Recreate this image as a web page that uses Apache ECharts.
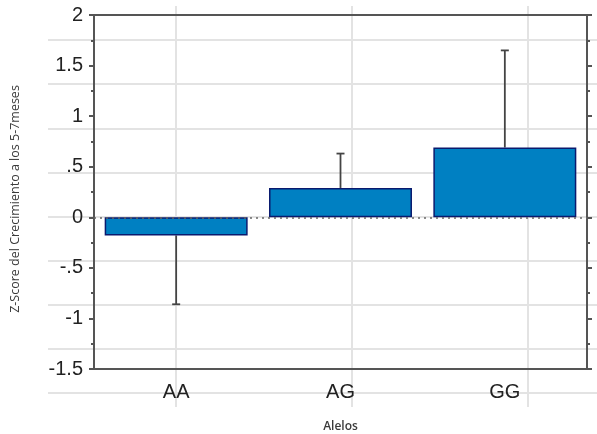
<!DOCTYPE html>
<html><head><meta charset="utf-8">
<script src="https://cdn.jsdelivr.net/npm/echarts@6/dist/echarts.min.js"></script>
<style>html,body{margin:0;padding:0;background:#fff}#c{width:597px;height:434px}</style>
</head><body><div id="c"></div>
<script>
const categories = ['AA', 'AG', 'GG'];
const means = [-0.18, 0.29, 0.69];
const errorEnds = [-0.86, 0.63, 1.65];
const yTicks = { min: -1.5, max: 2, interval: 0.5 };
const xName = 'Alelos';
const yName = 'Z-Score del Crecimiento a los 5-7meses';

const chart = echarts.init(document.getElementById('c'), null, { renderer: 'canvas' });
const axisCol = '#555';
const bgLine = { show: true, lineStyle: { color: '#e3e3e3', width: 2 } };
const fmt = v => { let s = String(Math.round(v * 100) / 100); return s.replace(/^0\./, '.').replace(/^-0\./, '-.'); };

chart.setOption({
  animation: false,
  grid: [
    { left: 94, right: 10, top: 15, bottom: 65, outerBoundsMode: 'none', containLabel: false },
    { left: 48, right: 0, top: 40, height: 353, outerBoundsMode: 'none' },
    { left: 176, width: 352, top: 6, bottom: 27, outerBoundsMode: 'none' }
  ],
  xAxis: [
    { type: 'category', data: categories, gridIndex: 0, boundaryGap: true,
      axisLine: { onZero: false, lineStyle: { color: axisCol, width: 2 } },
      axisTick: { alignWithLabel: true, length: 4, lineStyle: { color: axisCol, width: 2 } },
      axisLabel: { fontSize: 20, color: '#222', margin: 13, fontFamily: 'Liberation Sans' },
      name: xName, nameLocation: 'middle', nameGap: 52,
      nameTextStyle: { fontSize: 12, color: '#3a3a3a', fontFamily: 'Open Sans', fontWeight: 600 } },
    { type: 'category', data: categories, gridIndex: 0, position: 'top', boundaryGap: true,
      axisLine: { onZero: false, lineStyle: { color: axisCol, width: 2 } },
      axisTick: { alignWithLabel: true, inside: true, length: 3, lineStyle: { color: axisCol, width: 2 } },
      axisLabel: { show: false } },
    { type: 'value', gridIndex: 1, min: 0, max: 1, show: false },
    { type: 'value', gridIndex: 2, min: 0, max: 2, interval: 1,
      axisLine: { show: false }, axisTick: { show: false }, axisLabel: { show: false }, splitLine: bgLine }
  ],
  yAxis: [
    { type: 'value', gridIndex: 0, min: yTicks.min, max: yTicks.max, interval: yTicks.interval,
      axisLine: { show: true, onZero: false, lineStyle: { color: axisCol, width: 2 } },
      axisTick: { show: true, length: 5, lineStyle: { color: axisCol, width: 2 } },
      minorTick: { show: true, splitNumber: 2, length: 3, lineStyle: { color: axisCol, width: 2 } },
      splitLine: { show: false },
      axisLabel: { fontSize: 20, color: '#222', margin: 11, formatter: fmt, fontFamily: 'Liberation Sans' },
      name: yName, nameLocation: 'middle', nameGap: 72,
      nameTextStyle: { fontSize: 12.5, color: '#3a3a3a', fontFamily: 'Open Sans', padding: [0, 14, 0, 0] } },
    { type: 'value', gridIndex: 0, position: 'right', min: yTicks.min, max: yTicks.max, interval: yTicks.interval,
      axisLine: { show: true, onZero: false, lineStyle: { color: axisCol, width: 2 } },
      axisTick: { show: true, length: 5, lineStyle: { color: axisCol, width: 2 } },
      minorTick: { show: true, splitNumber: 2, length: 3, lineStyle: { color: axisCol, width: 2 } },
      splitLine: { show: false }, axisLabel: { show: false } },
    { type: 'value', gridIndex: 1, min: 0, max: 8, interval: 1,
      axisLine: { show: false }, axisTick: { show: false }, axisLabel: { show: false }, splitLine: bgLine },
    { type: 'value', gridIndex: 2, min: 0, max: 1, show: false }
  ],
  series: [
    { type: 'bar', xAxisIndex: 0, yAxisIndex: 0, data: means, barCategoryGap: '13%', z: 3,
      itemStyle: { color: '#0080c2', borderColor: '#0a1a6e', borderWidth: 1.5 },
      markLine: { silent: true, symbol: 'none', label: { show: false },
        lineStyle: { color: '#666', type: [2, 4], width: 1.5 }, data: [{ yAxis: 0 }] } },
    { type: 'custom', xAxisIndex: 0, yAxisIndex: 0, z: 2,
      data: categories.map((c, i) => [i, means[i], errorEnds[i]]),
      renderItem: (params, api) => {
        const p0 = api.coord([api.value(0), api.value(1)]);
        const p1 = api.coord([api.value(0), api.value(2)]);
        const cw = 4;
        const st = { stroke: '#444', lineWidth: 1.8 };
        return { type: 'group', children: [
          { type: 'line', shape: { x1: p0[0], y1: p0[1], x2: p1[0], y2: p1[1] }, style: st },
          { type: 'line', shape: { x1: p1[0] - cw, y1: p1[1], x2: p1[0] + cw, y2: p1[1] }, style: st }
        ] };
      } }
  ]
});
</script></body></html>
